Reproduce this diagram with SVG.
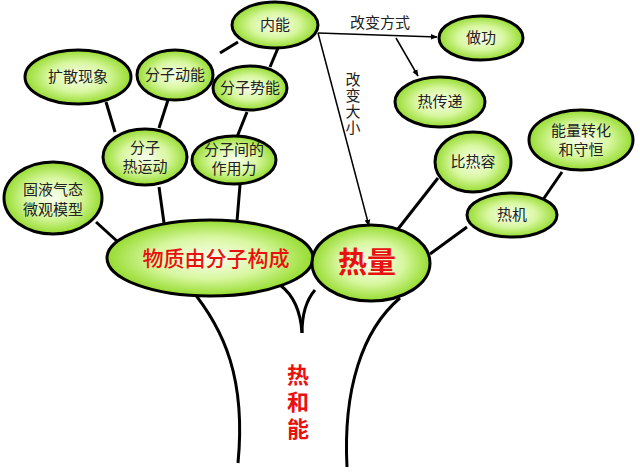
<svg xmlns="http://www.w3.org/2000/svg" width="640" height="473" viewBox="0 0 640 473">
<defs>
<radialGradient id="g" cx="50%" cy="50%" r="50%">
<stop offset="0%" stop-color="#f8ffee"/>
<stop offset="55%" stop-color="#d8f7a0"/>
<stop offset="100%" stop-color="#96dc30"/>
</radialGradient>
<marker id="ah" viewBox="0 0 10 10" refX="9" refY="5" markerWidth="7" markerHeight="7" orient="auto" markerUnits="userSpaceOnUse">
<path d="M0,1 L10,5 L0,9 z" fill="#000"/>
</marker>
<style>
.n{fill:url(#g);stroke:#000;stroke-width:3}
.t{font-family:"Liberation Sans","Noto Sans CJK SC",sans-serif;font-size:15px;fill:#222;text-anchor:middle}
.r{font-family:"Liberation Sans","Noto Sans CJK SC",sans-serif;fill:#e81010;text-anchor:middle}
.c{stroke:#000;stroke-width:3;fill:none}
.a{stroke:#000;stroke-width:1.5;fill:none;marker-end:url(#ah)}
</style>
</defs>
<rect width="640" height="473" fill="#fff"/>
<g id="connectors">
<path class="c" d="M190,288 C225,330 246,380 238,463"/>
<path class="c" d="M400,298 C362,330 343,390 347,467"/>
<path class="c" d="M280,285 Q300,300 302,333"/>
<path class="c" d="M315,290 Q302,305 302,333"/>
<line class="c" x1="220" y1="53" x2="238" y2="42"/>
<line class="c" x1="278" y1="48" x2="270" y2="67"/>
<line class="c" x1="106" y1="102" x2="115" y2="132"/>
<line class="c" x1="168" y1="100" x2="159" y2="128"/>
<line class="c" x1="247" y1="112" x2="237" y2="137"/>
<line class="c" x1="159" y1="187" x2="164" y2="223"/>
<line class="c" x1="240" y1="185" x2="237" y2="221"/>
<line class="c" x1="96" y1="222" x2="118" y2="242"/>
<line class="c" x1="438" y1="178" x2="398" y2="229"/>
<line class="c" x1="467" y1="227" x2="430" y2="254"/>
<line class="c" x1="562" y1="172" x2="540" y2="204"/>
<line class="a" x1="318" y1="33" x2="437" y2="37"/>
<line class="a" x1="396" y1="38" x2="418" y2="76"/>
<line class="a" x1="318" y1="33" x2="369" y2="226"/>
<text class="t" x="380" y="28">改变方式</text>
<text class="t"><tspan x="353" y="85">改</tspan><tspan x="353" y="101">变</tspan><tspan x="353" y="117">大</tspan><tspan x="353" y="133">小</tspan></text>
</g>
<g id="n-neineng"><ellipse class="n" cx="275" cy="25" rx="43" ry="23"/><text class="t" x="275" y="30">内能</text></g>
<g id="n-kuosan"><ellipse class="n" cx="78" cy="77" rx="53" ry="27"/><text class="t" x="78" y="82">扩散现象</text></g>
<g id="n-dongneng"><ellipse class="n" cx="175" cy="75" rx="38" ry="25"/><text class="t" x="175" y="80">分子动能</text></g>
<g id="n-shineng"><ellipse class="n" cx="250" cy="88" rx="37" ry="22"/><text class="t" x="250" y="93">分子势能</text></g>
<g id="n-reyundong"><ellipse class="n" cx="145" cy="157" rx="42" ry="28"/><text class="t"><tspan x="145" y="153">分子</tspan><tspan x="145" y="172">热运动</tspan></text></g>
<g id="n-zuoyongli"><ellipse class="n" cx="234" cy="160" rx="42" ry="24"/><text class="t"><tspan x="234" y="155">分子间的</tspan><tspan x="234" y="174">作用力</tspan></text></g>
<g id="n-moxing"><ellipse class="n" cx="53" cy="198" rx="49" ry="36"/><text class="t"><tspan x="53" y="195">固液气态</tspan><tspan x="53" y="215">微观模型</tspan></text></g>
<g id="n-zuogong"><ellipse class="n" cx="481" cy="38" rx="42" ry="22"/><text class="t" x="481" y="43">做功</text></g>
<g id="n-rechuandi"><ellipse class="n" cx="440" cy="102" rx="45" ry="25"/><text class="t" x="440" y="107">热传递</text></g>
<g id="n-shouheng"><ellipse class="n" cx="581" cy="140" rx="52" ry="30"/><text class="t"><tspan x="581" y="136">能量转化</tspan><tspan x="581" y="155">和守恒</tspan></text></g>
<g id="n-bireron"><ellipse class="n" cx="473" cy="162" rx="38" ry="30"/><text class="t" x="473" y="167">比热容</text></g>
<g id="n-reji"><ellipse class="n" cx="512" cy="215" rx="45" ry="22"/><text class="t" x="512" y="220">热机</text></g>
<g id="n-wuzhi"><ellipse class="n" cx="210" cy="258" rx="103" ry="38"/><text class="r" x="216" y="266" font-size="21" font-weight="500">物质由分子构成</text></g>
<g id="n-reliang"><ellipse class="n" cx="371" cy="263" rx="59" ry="38"/><text class="r" x="367" y="273" font-size="29" font-weight="bold">热量</text></g>
<g id="title"><text class="r" font-size="22" font-weight="bold" x="298" y="383">热</text><text class="r" font-size="22" font-weight="bold" x="298" y="410">和</text><text class="r" font-size="22" font-weight="bold" x="298" y="437">能</text></g>
</svg>
